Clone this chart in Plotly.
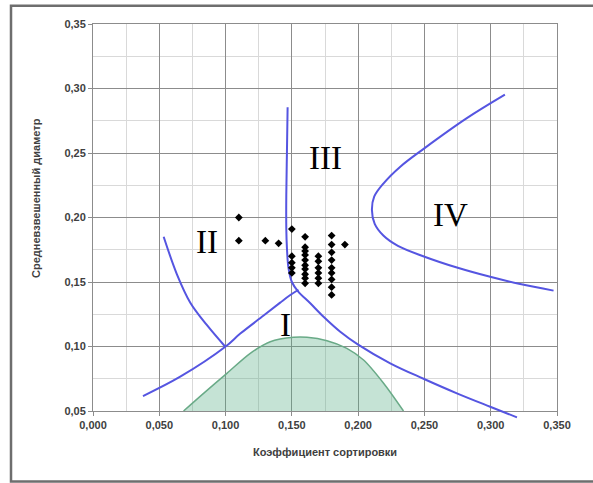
import plotly.graph_objects as go

# ---- data ----
pts_x = [0.11, 0.11, 0.13, 0.14, 0.15,
         0.15, 0.15, 0.15, 0.15,
         0.16, 0.16, 0.16, 0.16, 0.16, 0.16, 0.16, 0.16, 0.16, 0.16,
         0.17, 0.17, 0.17, 0.17, 0.17, 0.17,
         0.18, 0.18, 0.18, 0.18, 0.18, 0.18, 0.18, 0.18, 0.18,
         0.19]
pts_y = [0.200, 0.182, 0.182, 0.180, 0.191,
         0.170, 0.165, 0.161, 0.157,
         0.185, 0.177, 0.174, 0.171, 0.167, 0.163, 0.160, 0.156, 0.153, 0.149,
         0.170, 0.166, 0.161, 0.157, 0.153, 0.149,
         0.186, 0.179, 0.173, 0.167, 0.161, 0.157, 0.152, 0.146, 0.140,
         0.179]

curveA_x = [0.1468, 0.1463, 0.1458, 0.1458, 0.1463, 0.1475, 0.1500, 0.1545, 0.1639,
            0.1739, 0.1865, 0.2000, 0.2242, 0.2493, 0.2745, 0.2996, 0.3198]
curveA_y = [0.2854, 0.2510, 0.2174, 0.1916, 0.1760, 0.1606, 0.1500, 0.1430, 0.1335,
            0.1231, 0.1115, 0.1015, 0.0870, 0.0750, 0.0637, 0.0533, 0.0451]

curveB_x = [0.0377, 0.0658, 0.0998, 0.1111, 0.1287, 0.1412, 0.1488, 0.1550]
curveB_y = [0.0616, 0.0766, 0.0998, 0.1100, 0.1240, 0.1340, 0.1399, 0.1440]

curveC_x = [0.0533, 0.0633, 0.0734, 0.0860, 0.0998]
curveC_y = [0.1851, 0.1560, 0.1340, 0.1165, 0.0998]

curveIV_x = [0.3107, 0.2820, 0.2499, 0.2318, 0.2192, 0.2121, 0.2104, 0.2125, 0.2190,
             0.2300, 0.2501, 0.2745, 0.2996, 0.3222, 0.3474]
curveIV_y = [0.2952, 0.2770, 0.2536, 0.2394, 0.2265, 0.2161, 0.2058, 0.1950, 0.1860,
             0.1780, 0.1696, 0.1612, 0.1540, 0.1484, 0.1433]

green_x = [0.0683, 0.0834, 0.1010, 0.1186, 0.1337, 0.1513, 0.1614, 0.1765, 0.1915,
           0.2041, 0.2192, 0.2342]
green_y = [0.0500, 0.0637, 0.0792, 0.0947, 0.1037, 0.1071, 0.1071, 0.1045, 0.0986,
           0.0895, 0.0715, 0.0500]

region_labels = ["III", "II", "IV", "I"]
region_x = [0.1755, 0.0863, 0.2696, 0.1450]
region_y = [0.2460, 0.1810, 0.2020, 0.1167]

x_title = "Коэффициент сортировки"
y_title = "Средневзвешенный диаметр"

# ---- layout constants ----
W, H = 593, 483
ML, MR, MT, MB = 93, 36, 24, 60
PH = H - MT - MB  # 399
EXT = 12  # px that the overlay subplot extends below the main axis
YMIN, YMAX = 0.05, 0.35
ypx_per_unit = (PH - EXT) / (YMAX - YMIN)

BLUE = "rgb(85,85,225)"

fig = go.Figure()

# green area (main axes, clipped at 0.05)
fig.add_trace(go.Scatter(x=green_x, y=green_y, mode="lines", fill="tozeroy",
                         fillcolor="rgba(90,175,135,0.35)",
                         line=dict(color="rgb(105,170,135)", width=1.5, shape="spline", smoothing=0.8),
                         xaxis="x", yaxis="y", hoverinfo="skip", showlegend=False))

for cx, cy in [(curveA_x, curveA_y), (curveB_x, curveB_y), (curveC_x, curveC_y), (curveIV_x, curveIV_y)]:
    fig.add_trace(go.Scatter(x=cx, y=cy, mode="lines",
                             line=dict(color=BLUE, width=2, shape="spline", smoothing=1.0),
                             xaxis="x2", yaxis="y2", hoverinfo="skip", showlegend=False))

fig.add_trace(go.Scatter(x=pts_x, y=pts_y, mode="markers",
                         marker=dict(symbol="diamond", size=6, color="black"),
                         xaxis="x2", yaxis="y2", showlegend=False))

tickfont = dict(family="Liberation Sans, Arial", size=11, color="#404040", weight="bold")
grid_major = "#8c8c8c"
grid_minor = "#d9d9d9"

fig.update_layout(
    width=W, height=H,
    margin=dict(l=ML, r=MR, t=MT, b=MB),
    paper_bgcolor="white", plot_bgcolor="rgba(0,0,0,0)",
    separators=", ",
    xaxis=dict(domain=[0, 1], range=[0, 0.35], dtick=0.05, tickformat=".3f",
               showgrid=True, gridcolor=grid_major, gridwidth=1,
               minor=dict(dtick=0.025, showgrid=True, gridcolor=grid_minor, gridwidth=1),
               showline=True, linecolor=grid_major, linewidth=1, mirror=True,
               ticks="outside", ticklen=4, tickcolor=grid_major,
               tickfont=tickfont, zeroline=False, fixedrange=True, anchor="y"),
    yaxis=dict(domain=[EXT / PH, 1], range=[YMIN, YMAX], dtick=0.05, tickformat=".2f",
               showgrid=True, gridcolor=grid_major, gridwidth=1,
               minor=dict(dtick=0.025, showgrid=True, gridcolor=grid_minor, gridwidth=1),
               showline=True, linecolor=grid_major, linewidth=1, mirror=True,
               ticks="outside", ticklen=4, tickcolor=grid_major,
               tickfont=tickfont, zeroline=False, fixedrange=True, anchor="x"),
    xaxis2=dict(domain=[0, 1], range=[0, 0.35], visible=False, anchor="y2", fixedrange=True),
    yaxis2=dict(domain=[0, 1], range=[YMIN - EXT / ypx_per_unit, YMAX], visible=False,
                anchor="x2", fixedrange=True),
)

annotations = []
for t, ax_, ay_ in zip(region_labels, region_x, region_y):
    annotations.append(dict(text=t, x=ax_, y=ay_, xref="x", yref="y", showarrow=False,
                            font=dict(family="Liberation Serif, Times New Roman", size=33, color="black")))

# axis titles
annotations.append(dict(text=x_title, x=0.5, y=(PH + MT - 452) / PH, xref="paper", yref="paper",
                        showarrow=False, xanchor="center", yanchor="middle",
                        font=dict(family="Liberation Sans, Arial", size=11, color="#404040", weight="bold")))
annotations.append(dict(text=y_title, x=(36 - ML) / (W - ML - MR), y=(PH + MT - 198) / PH,
                        xref="paper", yref="paper", textangle=-90,
                        showarrow=False, xanchor="center", yanchor="middle",
                        font=dict(family="Liberation Sans, Arial", size=11, color="#404040", weight="bold")))
fig.update_layout(annotations=annotations)

# outer frame
PW = W - ML - MR
fig.add_shape(type="rect", xref="paper", yref="paper",
              x0=(11 - ML) / PW, x1=(598 - ML) / PW,
              y0=(PH + MT - 481.5) / PH, y1=(PH + MT - 5.7) / PH,
              line=dict(color="#6e6e6e", width=2.5), fillcolor="rgba(0,0,0,0)", layer="below")

fig.write_html("out.html")
